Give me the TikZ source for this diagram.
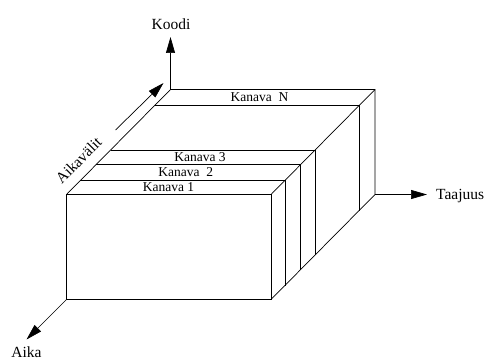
\documentclass[tikz,border=0pt]{standalone}
\usepackage{fontspec}
\setmainfont{Liberation Serif}
\usetikzlibrary{arrows.meta,calc}
\begin{document}
\begin{tikzpicture}[x=1pt,y=-1pt,
  edge/.style={line width=0.7pt,line join=miter},
  axis/.style={line width=0.7pt,-{Triangle[length=16pt,width=9pt]}},
  axislabel/.style={inner sep=0pt,font=\fontsize{15.5}{18}\selectfont},
  chanlabel/.style={inner sep=0pt,font=\fontsize{13.5}{16}\selectfont}]
\useasboundingbox (0,0) rectangle (490,361);
% front face corners
\coordinate (FTL) at (66.5,194.5);
\coordinate (FTR) at (271,194.5);
\coordinate (FBL) at (66.5,299.5);
\coordinate (FBR) at (271,299.5);
% back edges (depth offset 104,-105)
\coordinate (BTL) at (170.5,89.5);
\coordinate (BTR) at (375,89.5);
\coordinate (BBR) at (375,194.5);
% outline of the block
\draw[edge] (FTL) rectangle (FBR);
\draw[edge] (FTL) -- (BTL) -- (BTR) -- (BBR) -- (FBR);
\draw[edge] (FTR) -- (BTR);
% channel boundaries: line across the top, then down the side
\foreach \d/\nm in {14/a,30/b,44.5/c,89/d}{
  \coordinate (L\nm) at ($(FTL)+(0.99*\d,-\d)$);
  \coordinate (R\nm) at ($(FTR)+(0.99*\d,-\d)$);
  \coordinate (S\nm) at ($(FBR)+(0.99*\d,-\d)$);
  \draw[edge] (L\nm) -- (R\nm) -- (S\nm);
}
% channel labels
\node[chanlabel] (k1) at (168.5,187.3) {Kanava 1};
\node[chanlabel] (k2) at (185.7,172) {Kanava\ \ 2};
\node[chanlabel] (k3) at (200,157) {Kanava 3};
\node[chanlabel] (kn) at (259.5,97.5) {Kanava\ \ N};
% axes
\coordinate (koodiTip) at (170.5,37);
\coordinate (taajTip) at (427,194.5);
\coordinate (aikaTip) at (26.5,339.5);
\coordinate (avStart) at (115.5,130);
\coordinate (avTip) at (163.5,83);
\draw[axis] (BTL) -- (koodiTip);
\draw[axis] (BBR) -- (taajTip);
\draw[axis] (FBL) -- (aikaTip);
\draw[axis] (avStart) -- (avTip);
% axis labels
\node[axislabel,anchor=base] (koodi) at (171,30) {Koodi};
\node[axislabel,anchor=base west] (taaj) at (436,199) {Taajuus};
\node[axislabel,anchor=base] (aika) at (26.5,357.5) {Aika};
\node[axislabel,rotate=45] (aikav) at (78.5,160.5) {Aikavälit};
\end{tikzpicture}
\end{document}
